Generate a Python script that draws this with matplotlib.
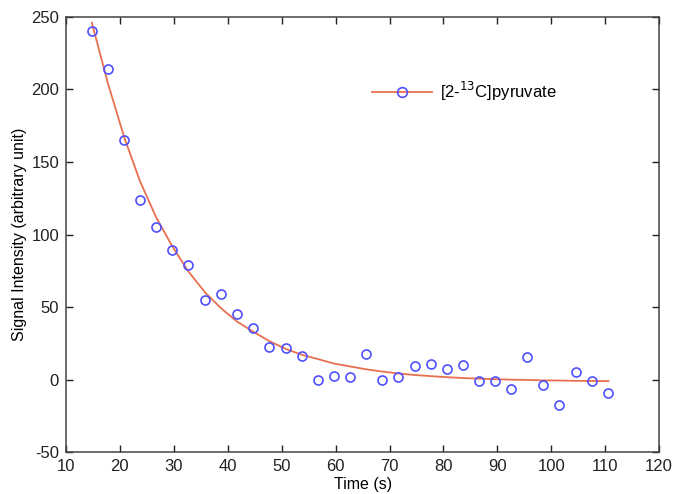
import matplotlib
matplotlib.use("Agg")
import matplotlib.pyplot as plt

plt.rcParams["font.family"] = ["Liberation Sans", "DejaVu Sans"]
plt.rcParams["axes.unicode_minus"] = False

# measured signal of [2-13C]pyruvate
time_s = [14.8, 17.8, 20.8, 23.7, 26.7, 29.7, 32.6, 35.8, 38.8, 41.7, 44.7,
          47.7, 50.8, 53.8, 56.8, 59.7, 62.7, 65.7, 68.6, 71.6, 74.7, 77.7,
          80.7, 83.7, 86.6, 89.6, 92.6, 95.5, 98.5, 101.5, 104.6, 107.6, 110.6]
signal = [240, 214, 165, 124, 105, 89, 79, 55, 59, 45, 35.5,
          22.4, 21.7, 16, -0.3, 2.4, 1.7, 17.6, -0.3, 1.7, 9, 11,
          7, 10, -1, -1, -6.5, 15.5, -3.8, -17.6, 5, -1, -9.3]
# fitted decay curve at the same times
fit = [246, 204, 167, 137, 112, 92, 75, 60, 49, 40, 33,
       26.5, 21, 17, 14, 11, 9, 7, 5.5, 4.2, 3.1, 2.3,
       1.6, 1.0, 0.6, 0.2, -0.1, -0.3, -0.6, -0.7, -0.9, -1.0, -1.1]

x_ticks = list(range(10, 121, 10))
y_ticks = list(range(-50, 251, 50))

fig = plt.figure(figsize=(6.76, 4.94), dpi=100)
ax = fig.add_axes([0.0976, 0.085, 0.8775, 0.8806])

ax.plot(time_s, fit, color="#e8704f", lw=1.3, zorder=2)
ax.plot(time_s, signal, ls="none", marker="o", ms=6.5, mfc="none",
        mec="#4f4fff", mew=1.2, zorder=3)

# legend handle: line with a marker in the middle
ax.plot([], [], color="#e8704f", lw=1.3, marker="o", ms=7, mfc="none",
        mec="#4f4fff", mew=1.2, label="[2-$^{13}$C]pyruvate")
ax.legend(loc="upper left", bbox_to_anchor=(0.49, 0.89), frameon=False,
          handlelength=3.6, handletextpad=0.5, fontsize=12)

ax.set_xlim(10, 120)
ax.set_ylim(-50, 250)
ax.set_xticks(x_ticks)
ax.set_yticks(y_ticks)
ax.tick_params(direction="in", length=5, width=1, top=True, right=True,
               labelsize=12, colors="#222222", pad=5)
for s in ax.spines.values():
    s.set_color("#444444")
    s.set_linewidth(1.1)

ax.set_xlabel("Time (s)", fontsize=11.5, labelpad=2)
ax.set_ylabel("Signal Intensity (arbitrary unit)", fontsize=11.5, labelpad=3)

fig.savefig("out.png", dpi=100)
